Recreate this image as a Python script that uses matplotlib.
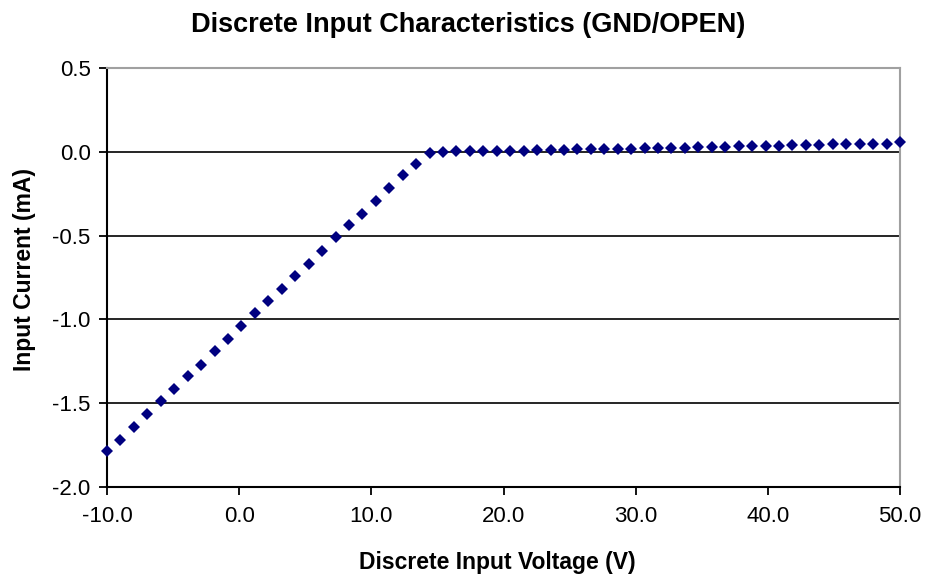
import matplotlib
matplotlib.use("Agg")
import matplotlib.pyplot as plt

plt.rcParams['font.family'] = ['Liberation Sans', 'DejaVu Sans']

voltage = [
    -10.00, -8.98, -7.97, -6.95, -5.93, -4.92, -3.90, -2.88, -1.86, -0.85,
    0.17, 1.19, 2.20, 3.22, 4.24, 5.25, 6.27, 7.29, 8.31, 9.32,
    10.34, 11.36, 12.37, 13.39, 14.41, 15.42, 16.44, 17.46, 18.47, 19.49,
    20.51, 21.53, 22.54, 23.56, 24.58, 25.59, 26.61, 27.63, 28.64, 29.66,
    30.68, 31.69, 32.71, 33.73, 34.75, 35.76, 36.78, 37.80, 38.81, 39.83,
    40.85, 41.86, 42.88, 43.90, 44.92, 45.93, 46.95, 47.97, 48.98, 50.00,
]
current = [
    -1.784, -1.718, -1.644, -1.565, -1.486, -1.413, -1.338, -1.270, -1.191, -1.115,
    -1.040, -0.961, -0.888, -0.818, -0.743, -0.668, -0.592, -0.511, -0.438, -0.370,
    -0.295, -0.218, -0.139, -0.075, -0.006, 0.000, 0.002, 0.003, 0.004, 0.005,
    0.006, 0.007, 0.008, 0.012, 0.013, 0.014, 0.015, 0.016, 0.017, 0.018,
    0.022, 0.023, 0.024, 0.025, 0.026, 0.027, 0.028, 0.034, 0.035, 0.036,
    0.037, 0.038, 0.039, 0.040, 0.045, 0.046, 0.047, 0.048, 0.049, 0.058,
]
x_ticks = [-10, 0, 10, 20, 30, 40, 50]
y_ticks = [-2.0, -1.5, -1.0, -0.5, 0.0, 0.5]

W, H = 925, 577
fig = plt.figure(figsize=(W/100, H/100), dpi=100)
ax = fig.add_axes([107/W, 1-487/H, (900-107)/W, (487-68)/H])

ax.set_xlim(-10, 50)
ax.set_ylim(-2.0, 0.5)
ax.set_xticks(x_ticks)
ax.set_xticklabels([f"{v:.1f}" for v in x_ticks])
ax.set_yticks(y_ticks)
ax.set_yticklabels([f"{v:.1f}" for v in y_ticks])

for yv in y_ticks[1:-1]:
    ax.axhline(yv, color='black', linewidth=1.2, zorder=1)

ax.plot(voltage, current, linestyle='none', marker='D', markersize=6.3,
        color='#000080', markeredgewidth=0, zorder=3, clip_on=False)

for s in ['top', 'right']:
    ax.spines[s].set_color('#a0a0a0')
    ax.spines[s].set_linewidth(1.5)
for s in ['left', 'bottom']:
    ax.spines[s].set_color('black')
    ax.spines[s].set_linewidth(1.5)

ax.tick_params(axis='both', direction='out', length=5.8, width=1.3, color='black',
               labelsize=16)
ax.tick_params(axis='x', pad=8)
ax.tick_params(axis='y', pad=6)

fig.text(468/W, 1-25/H, 'Discrete Input Characteristics (GND/OPEN)', fontsize=19.5,
         fontweight='bold', ha='center', va='center')
fig.text(497/W, 1-563/H, 'Discrete Input Voltage (V)', fontsize=16.5,
         fontweight='bold', ha='center', va='center')
fig.text(25/W, 1-269/H, 'Input Current (mA)', fontsize=16.5, fontweight='bold',
         ha='center', va='center', rotation=90)

fig.savefig('out.png', dpi=100)
